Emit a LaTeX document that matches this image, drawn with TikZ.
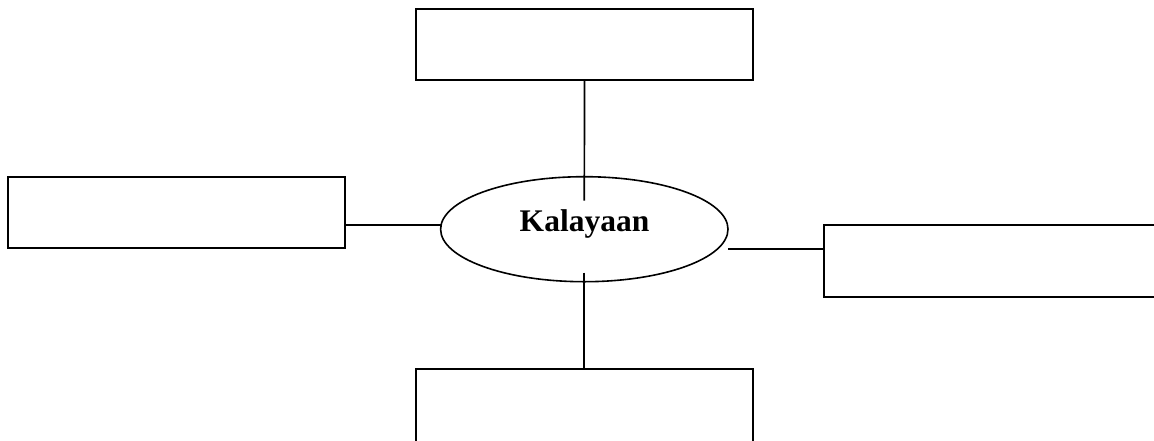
\documentclass[tikz,border=0pt]{standalone}
\usepackage{fontspec}
\setmainfont{Liberation Serif}
\usetikzlibrary{shapes.geometric}
\tikzset{
  emptybox/.style={draw, line width=2pt, inner sep=0pt, minimum width=336.5pt, minimum height=71pt},
  oval/.style={draw, ellipse, line width=1.6pt, inner sep=0pt, minimum width=287.4pt, minimum height=105pt},
  link/.style={line width=1.7pt},
  title/.style={font=\fontsize{31.5}{36}\selectfont\bfseries, inner sep=0pt, anchor=base}
}
\begin{document}
\begin{tikzpicture}[x=1pt, y=-1pt]
\useasboundingbox (0,0) rectangle (1154,440);
\clip (0,0) rectangle (1154,440);
\node[emptybox] (topbox) at (584.5,44.6) {};
\node[emptybox, minimum width=336.7pt, minimum height=70.7pt] (leftbox) at (176.6,212.6) {};
\node[emptybox, minimum width=345pt, minimum height=72pt] (rightbox) at (996.8,261) {};
\node[emptybox, minimum height=73pt] (bottombox) at (584.3,405.5) {};
\node[oval] (ell) at (584.3,229.2) {};
\node[title] (ttl) at (584.5,231) {Kalayaan};
\coordinate (topend) at (584.3,200.7);
\coordinate (bottomend) at (584.3,272.7);
\coordinate (leftend) at (441.2,225);
\coordinate (rightend) at (728.3,248.7);
\draw[link] (topbox.south) -- (topend);
\draw[link] (bottomend) -- (bottombox.north);
\draw[link] (leftbox.east |- leftend) -- (leftend);
\draw[link] (rightend) -- (rightend -| rightbox.west);
\end{tikzpicture}
\end{document}
